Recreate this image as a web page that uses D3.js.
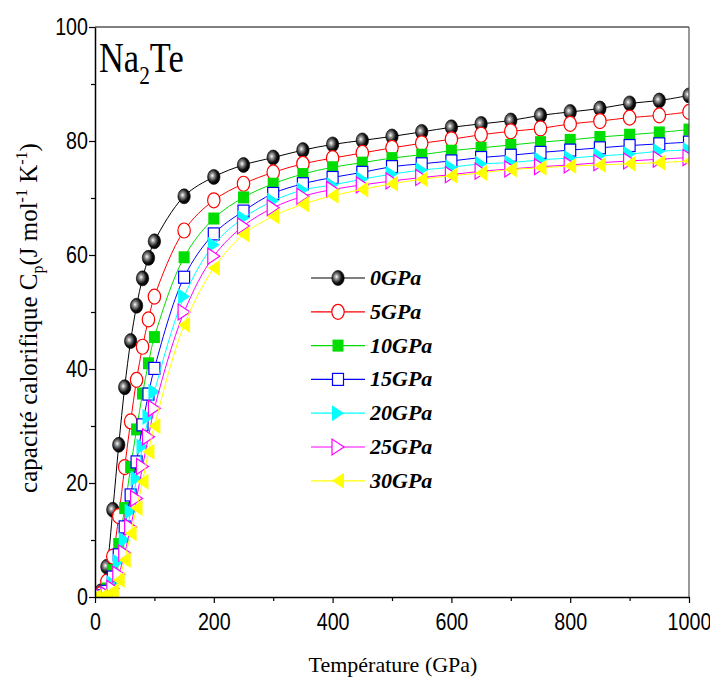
<!DOCTYPE html>
<html><head><meta charset="utf-8">
<script src="https://cdn.jsdelivr.net/npm/d3@7"></script>
<style>body{margin:0;background:#fff}svg{display:block}</style>
</head><body>
<script>
const temps = [0,10,20,30,40,50,60,70,80,90,100,150,200,250,300,350,400,450,500,550,600,650,700,750,800,850,900,950,1000];
const cp0  = [0,1.0,5.3,15.3,26.7,36.8,44.9,51.1,55.9,59.5,62.4,70.3,73.7,75.8,77.1,78.4,79.4,80.1,80.8,81.6,82.4,83.0,83.6,84.5,85.1,85.7,86.6,87.1,88.0];
const cp5  = [0,0.5,2.7,7.1,14.2,22.8,30.8,38.1,43.9,48.7,52.7,64.3,69.6,72.5,74.5,76.0,77.0,77.9,78.8,79.6,80.3,81.1,81.7,82.2,83.0,83.5,84.1,84.5,85.1];
const cp10 = [0,0.3,1.5,4.7,9.3,15.6,22.8,29.4,35.7,41.0,45.6,59.6,66.4,70.1,72.5,74.2,75.4,76.2,77.0,77.6,78.3,78.8,79.3,79.8,80.2,80.7,81.1,81.5,82.0];
const cp15 = [0,0.2,1.0,3.5,7.4,12.3,17.9,23.7,30.2,35.6,40.1,56.1,63.7,67.7,70.8,72.5,73.6,74.5,75.5,76.0,76.5,77.1,77.5,78.0,78.4,78.8,79.2,79.5,79.8];
const cp20 = [0,0.1,0.6,2.4,6.2,10.0,15.0,20.8,26.4,31.6,36.0,52.7,61.8,66.5,69.5,71.4,72.3,73.3,74.2,74.9,75.4,76.0,76.2,76.7,77.0,77.4,77.7,78.2,78.4];
const cp25 = [0,0.1,0.4,1.5,4.0,7.7,12.3,17.3,22.9,28.1,33.1,50.0,59.8,65.1,68.3,70.3,71.5,72.3,73.0,73.6,74.1,74.7,75.1,75.5,75.8,76.2,76.5,76.8,77.1];
const cp30 = [0,0.0,0.3,1.0,3.0,6.5,11.2,15.6,20.2,25.5,30.0,47.7,57.7,63.6,66.8,68.9,70.4,71.5,72.5,73.3,73.9,74.4,75.0,75.3,75.6,75.8,76.0,76.2,76.5];
const seriesNames = ["0GPa","5GPa","10GPa","15GPa","20GPa","25GPa","30GPa"];
const seriesValues = [cp0,cp5,cp10,cp15,cp20,cp25,cp30];
const xTicks = [0,200,400,600,800,1000];
const yTicks = [0,20,40,60,80,100];

const colors = ["#000000","#ff0000","#00dd00","#0000ff","#00ffff","#ff00ff","#ffff00"];
const markers = ["sphere","circleOpen","squareFill","squareOpen","triRightFill","triRightOpen","triLeftFill"];

const W=710,H=688;
const m={l:95,r:21,t:27,b:91};
const svg=d3.select("body").append("svg").attr("width",W).attr("height",H);
const defs=svg.append("defs");
const grad=defs.append("radialGradient").attr("id","sph").attr("cx","0.38").attr("cy","0.42").attr("r","0.6");
grad.append("stop").attr("offset","0").attr("stop-color","#ffffff");
grad.append("stop").attr("offset","0.25").attr("stop-color","#9a9a9a");
grad.append("stop").attr("offset","0.7").attr("stop-color","#111");
grad.append("stop").attr("offset","1").attr("stop-color","#000");
defs.append("clipPath").attr("id","clip").append("rect")
  .attr("x",m.l).attr("y",m.t).attr("width",W-m.l-m.r).attr("height",H-m.t-m.b);

const x=d3.scaleLinear().domain([0,1000]).range([m.l,W-m.r]);
const y=d3.scaleLinear().domain([0,100]).range([H-m.b,m.t]);

function drawMarker(g,type,color,cx,cy){
  const rx=6.2, ry=7.5;
  if(type==="sphere"){
    g.append("ellipse").attr("cx",cx).attr("cy",cy).attr("rx",rx).attr("ry",ry).attr("fill","url(#sph)").attr("stroke","#000").attr("stroke-width",0.6);
  } else if(type==="circleOpen"){
    g.append("ellipse").attr("cx",cx).attr("cy",cy).attr("rx",rx).attr("ry",ry).attr("fill","#fff").attr("stroke",color).attr("stroke-width",1.2);
  } else if(type==="squareFill"||type==="squareOpen"){
    g.append("rect").attr("x",cx-5.5).attr("y",cy-6).attr("width",11).attr("height",12)
      .attr("fill",type==="squareFill"?color:"#fff").attr("stroke",color).attr("stroke-width",type==="squareFill"?0:1.2);
  } else {
    let pts;
    if(type==="triLeftFill") pts=[[cx-6,cy],[cx+6,cy-8],[cx+6,cy+8]];
    else pts=[[cx+6,cy],[cx-6,cy-8],[cx-6,cy+8]];
    g.append("polygon").attr("points",pts.map(p=>p.join(",")).join(" "))
      .attr("fill",type==="triRightOpen"?"#fff":color).attr("stroke",color).attr("stroke-width",type==="triRightOpen"?1.2:0);
  }
}

const plot=svg.append("g").attr("clip-path","url(#clip)");
const line=d3.line().x(d=>x(d[0])).y(d=>y(d[1])).curve(d3.curveCatmullRom.alpha(0.5));
seriesValues.forEach((vals,i)=>{
  const pts=temps.map((t,j)=>[t,vals[j]]);
  const g=plot.append("g");
  g.append("path").attr("d",line(pts)).attr("fill","none").attr("stroke",colors[i]).attr("stroke-width",1);
  pts.forEach(p=>drawMarker(g,markers[i],colors[i],x(p[0]),y(p[1])));
});

// frame
svg.append("line").attr("x1",m.l).attr("x2",W-m.r).attr("y1",m.t).attr("y2",m.t).attr("stroke","#000").attr("stroke-width",1.2);
svg.append("line").attr("x1",W-m.r).attr("x2",W-m.r).attr("y1",m.t).attr("y2",H-m.b).attr("stroke","#555").attr("stroke-width",1.2);

// axes
const tickFont="'Liberation Sans',Arial,sans-serif";
const xAxis=svg.append("g").attr("transform",`translate(0,${H-m.b})`)
  .call(d3.axisBottom(x).tickValues(xTicks).tickSize(6).tickSizeOuter(0).tickPadding(8).tickFormat(d3.format("d")));
svg.append("g").attr("transform",`translate(0,${H-m.b})`)
  .call(d3.axisBottom(x).tickValues(d3.range(100,1000,200)).tickSize(4).tickSizeOuter(0).tickFormat(""))
  .select(".domain").remove();
const yAxis=svg.append("g").attr("transform",`translate(${m.l},0)`)
  .call(d3.axisLeft(y).tickValues(yTicks).tickSize(6).tickSizeOuter(0).tickPadding(5).tickFormat(d3.format("d")));
svg.append("g").attr("transform",`translate(${m.l},0)`)
  .call(d3.axisLeft(y).tickValues(d3.range(10,100,20)).tickSize(4).tickSizeOuter(0).tickFormat(""))
  .select(".domain").remove();
svg.selectAll(".domain").attr("stroke-width",1.5);
svg.selectAll(".tick line").attr("stroke-width",1.2);
svg.selectAll(".tick text").style("font-family",tickFont).style("font-size","24px").attr("fill","#000")
  .attr("transform","scale(0.82,1)");
xAxis.selectAll(".tick text").attr("dy","0.78em");
yAxis.selectAll(".tick text").attr("x",-7/0.82);

// axis titles
svg.append("text").attr("x",393).attr("y",672).attr("text-anchor","middle")
  .style("font-family","'Liberation Serif','Times New Roman',serif").style("font-size","22px").text("Température (GPa)");
const yl=svg.append("text").attr("transform","translate(37,318) rotate(-90)").attr("text-anchor","middle")
  .style("font-family","'Liberation Serif','Times New Roman',serif").style("font-size","25px");
yl.append("tspan").text("capacité calorifique C");
yl.append("tspan").style("font-size","16px").attr("dy",6).text("p");
yl.append("tspan").attr("dy",-6).text("(J mol");
yl.append("tspan").style("font-size","16px").attr("dy",-10).text("-1");
yl.append("tspan").attr("dy",10).text(" K");
yl.append("tspan").style("font-size","16px").attr("dy",-10).text("-1");
yl.append("tspan").attr("dy",10).text(")");

// compound label
const nl=svg.append("text").attr("transform","translate(99,72) scale(0.82,1)")
  .style("font-family","'Liberation Serif','Times New Roman',serif").style("font-size","42px");
nl.append("tspan").text("Na");
nl.append("tspan").style("font-size","26px").attr("dy",12).text("2");
nl.append("tspan").attr("dy",-12).text("Te");

// legend
const lg=svg.append("g");
seriesNames.forEach((nm,i)=>{
  const yy=278+i*33.8;
  lg.append("line").attr("x1",311).attr("x2",365).attr("y1",yy).attr("y2",yy).attr("stroke",colors[i]).attr("stroke-width",1.2);
  drawMarker(lg,markers[i],colors[i],338,yy);
  lg.append("text").attr("x",370).attr("y",yy+7).style("font-family","'Liberation Serif','Times New Roman',serif")
    .style("font-size","22px").attr("font-weight","bold").attr("font-style","italic").text(nm);
});
</script>
</body></html>
